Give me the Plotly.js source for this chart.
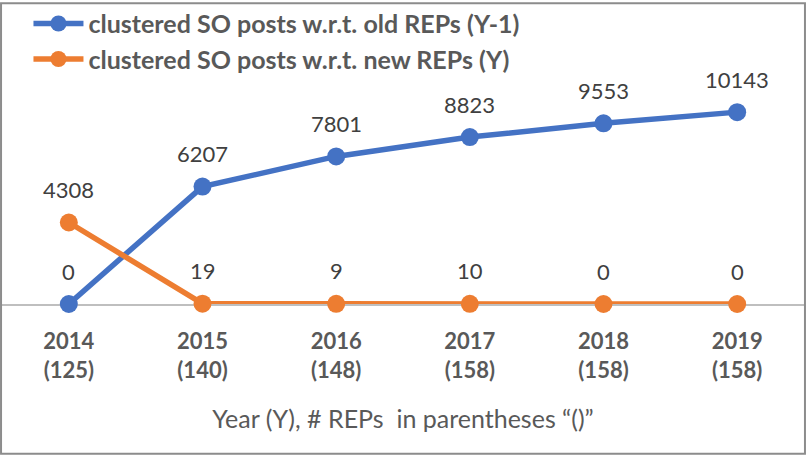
<!DOCTYPE html>
<html>
<head>
<meta charset="utf-8">
<script src="https://cdn.plot.ly/plotly-3.0.1.min.js"></script>
<style>
  html, body { margin: 0; padding: 0; background: #fff; }
  #chart { width: 806px; height: 456px; }
</style>
</head>
<body>
<div id="chart"></div>
<script>
// chart data
const years = ['2014', '2015', '2016', '2017', '2018', '2019'];
const repCounts = [125, 140, 148, 158, 158, 158];
const oldReps = [0, 6207, 7801, 8823, 9553, 10143];
const newReps = [4308, 19, 9, 10, 0, 0];

const seriesNames = [
    'clustered SO posts w.r.t. old REPs (Y-1)',
    'clustered SO posts w.r.t. new REPs (Y)'
];

const FONT = 'Lato, "Open Sans", sans-serif';
const blue = '#4472C4';
const orange = '#ED7D31';

// tick labels: year on top, number of REPs below
let tickText = [];
for (let i = 0; i < years.length; i++) {
    tickText.push(years[i] + '<br>(' + repCounts[i] + ')');
}

function lineTrace(values, name, color) {
    return {
        x: years,
        y: values,
        name: name,
        type: 'scatter',
        mode: 'lines+markers',
        line: { color: color, width: 5.5 },
        marker: { color: color, size: 18 },
        cliponaxis: false
    };
}

// value labels sit above each point (x is the category index)
function valueLabels(values) {
    let out = [];
    for (let i = 0; i < values.length; i++) {
        out.push({
            x: i,
            y: values[i],
            text: String(values[i]),
            showarrow: false,
            yshift: 33,
            font: { family: FONT, size: 22, color: '#404040' }
        });
    }
    return out;
}

const data = [
    lineTrace(oldReps, seriesNames[0], blue),
    lineTrace(newReps, seriesNames[1], orange)
];

const layout = {
    width: 806,
    height: 456,
    margin: { l: 2, r: 2, t: 76, b: 152 },
    paper_bgcolor: '#ffffff',
    plot_bgcolor: '#ffffff',
    font: { family: FONT, color: '#595959' },
    showlegend: true,
    legend: {
        x: 0.033, y: 1.33, xanchor: 'left', yanchor: 'top',
        font: { family: FONT, size: 25, color: '#595959', weight: 'bold' },
        itemwidth: 50,
        tracegroupgap: 0,
        bgcolor: 'rgba(0,0,0,0)'
    },
    xaxis: {
        type: 'category',
        range: [-0.5, 5.5],
        tickvals: years,
        ticktext: tickText,
        tickfont: { family: FONT, size: 22, color: '#595959', weight: 'bold' },
        ticks: '',
        ticklabelstandoff: 17,
        showgrid: false,
        zeroline: false,
        showline: true,
        linecolor: '#bfbfbf',
        linewidth: 2,
        layer: 'below traces',
        title: {
            text: 'Year (Y), # REPs  in parentheses \u201c()\u201d',
            font: { family: FONT, size: 25, color: '#595959' },
            standoff: 28
        },
        fixedrange: true
    },
    yaxis: {
        range: [0, 12000],
        visible: false,
        showgrid: false,
        zeroline: false,
        fixedrange: true
    },
    annotations: valueLabels(oldReps).concat(valueLabels(newReps)),
    shapes: [{
        type: 'rect', xref: 'paper', yref: 'paper',
        x0: -0.0012, x1: 1.0012, y0: -0.66, y1: 1.325,
        line: { color: '#8c8c8c', width: 2 },
        layer: 'above'
    }]
};

Plotly.newPlot('chart', data, layout, { displayModeBar: false, staticPlot: true });
</script>
</body>
</html>
